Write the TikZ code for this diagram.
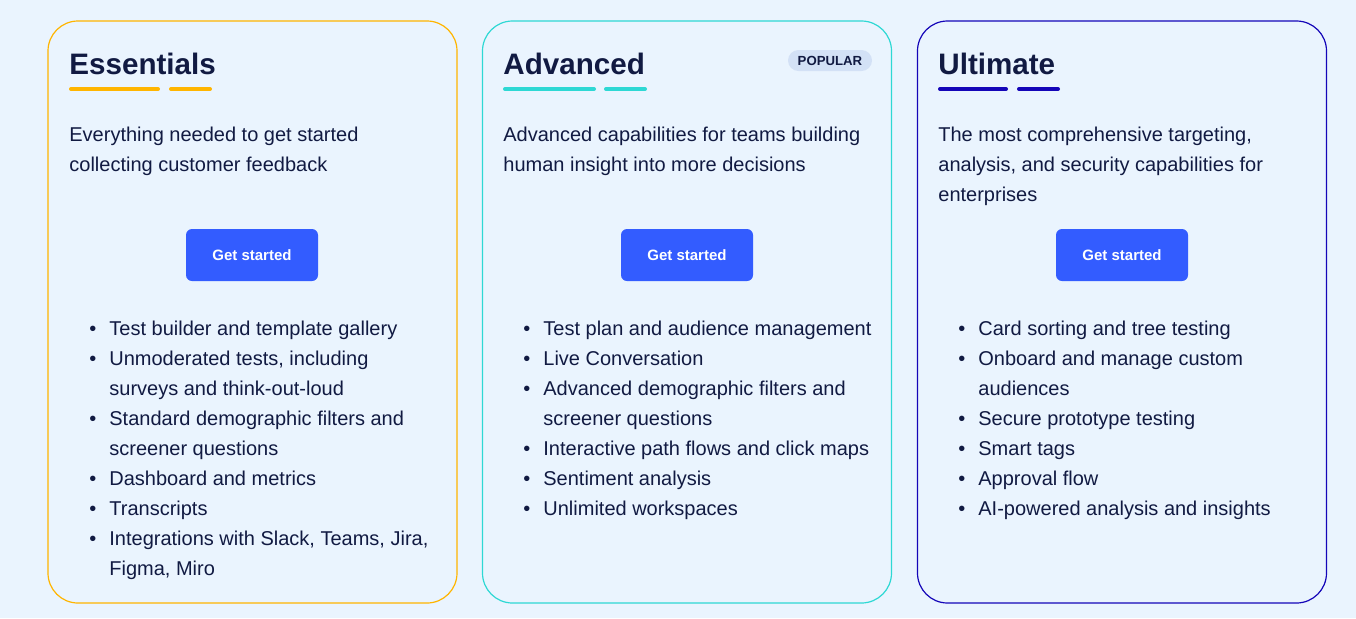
\documentclass[tikz,border=0pt]{standalone}
\usepackage{fontspec}
\setmainfont{Liberation Sans}
\usetikzlibrary{positioning}
\definecolor{pagebg}{HTML}{EAF4FE}
\definecolor{ink}{HTML}{111A42}
\definecolor{yel}{HTML}{FFB500}
\definecolor{cya}{HTML}{2ED8D4}
\definecolor{ind}{HTML}{1405B8}
\definecolor{btnblue}{HTML}{335CFF}
\definecolor{pillbg}{HTML}{D3E1F6}
\newcommand{\itm}{\llap{\textbullet\hspace{6.5pt}}}
\newcommand{\topline}{\rule{0pt}{10pt}}

\begin{document}
\begin{tikzpicture}[x=0.5pt,y=-0.5pt,
    card/.style={draw=#1, line width=0.6pt, rounded corners=15pt, fill=pagebg,
        minimum width=204.5pt, minimum height=291pt, inner sep=0pt},
    tier/.style={anchor=base west, inner sep=0pt, text=ink,
        font=\fontsize{14.8}{15}\selectfont\bfseries},
    blurb/.style={anchor=north west, inner sep=0pt, align=left, text=ink,
        font=\fontsize{10}{15}\selectfont},
    getbtn/.style={fill=btnblue, rounded corners=3pt, text=white,
        minimum width=66pt, minimum height=26pt, inner sep=0pt,
        font=\fontsize{7.5}{9}\selectfont\bfseries},
    pill/.style={fill=pillbg, rounded corners=5.25pt, text=ink,
        minimum width=42pt, minimum height=10.5pt, inner sep=0pt,
        font=\fontsize{6.6}{8}\selectfont\bfseries},
    bar/.style={line width=2pt, line cap=round}]
    \useasboundingbox[fill=pagebg] (0,0) rectangle (1356,618);
    % Cards
    \foreach \cx/\col/\nm in {252.5/yel/ess, 687/cya/adv, 1122/ind/ult}
        \node[card=\col] (\nm) at (\cx,312) {};
    % Titles
    \node[tier] (tess) at (69,74) {Essentials};
    \node[tier] (tadv) at (503,74) {Advanced};
    \node[tier] (tult) at (938,74) {Ultimate};
    \node[pill] (popular) at (830,60.5) {POPULAR};
    % Underline bars
    \foreach \a/\b/\c/\d/\col in {71/158/171/210/yel, 505/594/606/645/cya, 940/1006/1019/1058/ind}
    {
        \draw[bar,\col] (\a,89) -- (\b,89);
        \draw[bar,\col] (\c,89) -- (\d,89);
    }
    % Descriptions (baseline = top + 20)
    \node[blurb] (dess) at (69,121) {\topline Everything needed to get started\\collecting customer feedback};
    \node[blurb] (dadv) at (503,121) {\topline Advanced capabilities for teams building\\human insight into more decisions};
    \node[blurb] (dult) at (938,121) {\topline The most comprehensive targeting,\\analysis, and security capabilities for\\enterprises};
    % Buttons
    \foreach \cx/\nm in {252/ess, 687/adv, 1122/ult}
        \node[getbtn] (btn\nm) at (\cx,255) {Get started};
    % Feature lists
    \node[blurb] (fess) at (109,315) {\topline\itm Test builder and template gallery\\
        \itm Unmoderated tests, including\\surveys and think-out-loud\\
        \itm Standard demographic filters and\\screener questions\\
        \itm Dashboard and metrics\\
        \itm Transcripts\\
        \itm Integrations with Slack, Teams, Jira,\\Figma, Miro};
    \node[blurb] (fadv) at (543,315) {\topline\itm Test plan and audience management\\
        \itm Live Conversation\\
        \itm Advanced demographic filters and\\screener questions\\
        \itm Interactive path flows and click maps\\
        \itm Sentiment analysis\\
        \itm Unlimited workspaces};
    \node[blurb] (fult) at (978,315) {\topline\itm Card sorting and tree testing\\
        \itm Onboard and manage custom\\audiences\\
        \itm Secure prototype testing\\
        \itm Smart tags\\
        \itm Approval flow\\
        \itm AI-powered analysis and insights};
\end{tikzpicture}
\end{document}
